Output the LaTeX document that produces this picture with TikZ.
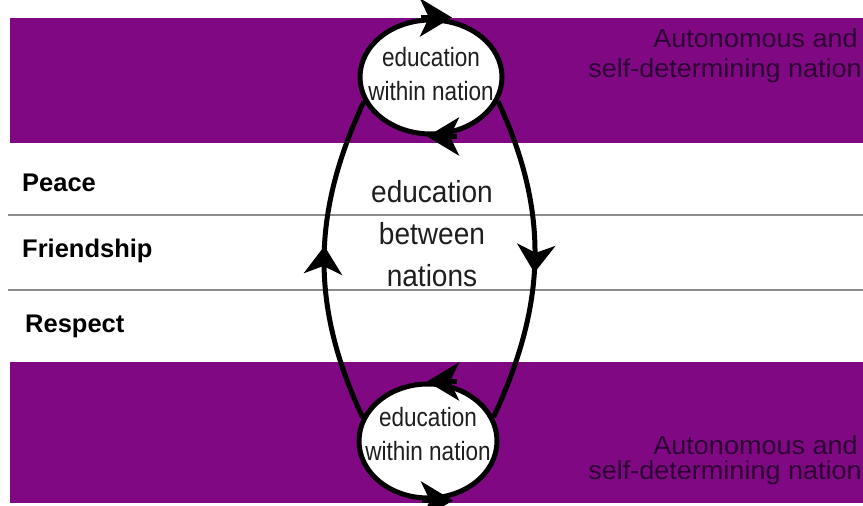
\documentclass[tikz,border=0pt]{standalone}
\usepackage{fontspec}
\setmainfont{Liberation Sans}
\usetikzlibrary{shapes.geometric,arrows.meta,decorations.markings,backgrounds}
\definecolor{band}{RGB}{128,8,130}
\definecolor{bandtext}{RGB}{45,0,52}
\definecolor{rulegray}{RGB}{140,140,140}
\definecolor{ink}{RGB}{30,30,30}
\newcommand{\squeeze}[2]{\scalebox{#1}[1]{#2}}

\begin{document}
\begin{tikzpicture}[x=1pt,y=1pt,
  bandbox/.style={fill=band,draw=none},
  divider/.style={draw=rulegray,line width=2.5pt},
  valuelabel/.style={anchor=base west,inner sep=0,font=\bfseries\fontsize{25.5}{30}\selectfont,text=black},
  nationtext/.style={anchor=base east,inner sep=0,text=bandtext,font=\fontsize{26}{30}\selectfont},
  withinbox/.style={ellipse,draw=black,fill=white,line width=5pt,inner sep=0},
  withintext/.style={align=center,inner sep=0,text=ink,font=\fontsize{26.5}{34}\selectfont},
  betweentext/.style={align=center,inner sep=0,text=ink,font=\fontsize{30.5}{42}\selectfont},
  loopline/.style={line width=5pt,postaction={decorate},
    decoration={markings,mark=at position #1 with {\arrow{Stealth[length=28pt,width=38pt,inset=8pt]}}}},
  rimtip/.style={line width=5pt,-{Stealth[length=32pt,width=38pt,inset=9pt]}}
]
\clip (0,0) rectangle (863,506);

% the two national ellipses
\node[withinbox,minimum width=142pt,minimum height=114pt] (topE) at (431,429) {};
\node[withinbox,minimum width=138pt,minimum height=114pt] (botE) at (428,65) {};

\node[withintext] (topT) at ([yshift=3pt]topE.center)
  {\squeeze{0.85}{education}\\\squeeze{0.85}{within nation}};
\node[withintext] (botT) at ([yshift=7pt]botE.center)
  {\squeeze{0.85}{education}\\\squeeze{0.85}{within nation}};

% arrowheads running round each ellipse
\draw[rimtip] ([xshift=-10pt]topE.north) -- ([xshift=21pt]topE.north);
\draw[rimtip] ([xshift=26pt]topE.south) -- ([xshift=-4pt]topE.south);
\draw[rimtip] ([xshift=29pt]botE.north) -- ([xshift=-1pt]botE.north);
\draw[rimtip] ([xshift=-6pt]botE.south) -- ([xshift=25pt]botE.south);

% exchange between the nations
\node[betweentext] (midT) at (432,272)
  {\squeeze{0.92}{education}\\\squeeze{0.92}{between}\\\squeeze{0.92}{nations}};

% row labels
\node[valuelabel] (peace) at (22,314) {Peace};
\node[valuelabel] (friend) at (22,248) {Friendship};
\node[valuelabel] (respect) at (25,173) {Respect};

% band captions
\node[nationtext] (topA) at (858,458) {\squeeze{1.04}{Autonomous and}};
\node[nationtext] (topB) at (862,428) {\squeeze{1.04}{self-determining nation}};
\node[nationtext] (botA) at (858,51) {\squeeze{1.04}{Autonomous and}};
\node[nationtext] (botB) at (862,26) {\squeeze{1.04}{self-determining nation}};

\begin{scope}[on background layer]
  \fill[bandbox] (10,363) rectangle (863,488);
  \fill[bandbox] (10,3) rectangle (863,144);
  \draw[divider] (8,291) -- (863,291);
  \draw[divider] (8,216) -- (863,216);
  \draw[loopline=0.54] (botE.160) to[out=115,in=245] (topE.200);
  \draw[loopline=0.54] (topE.-20) to[out=-65,in=65] (botE.20);
\end{scope}
\end{tikzpicture}
\end{document}
